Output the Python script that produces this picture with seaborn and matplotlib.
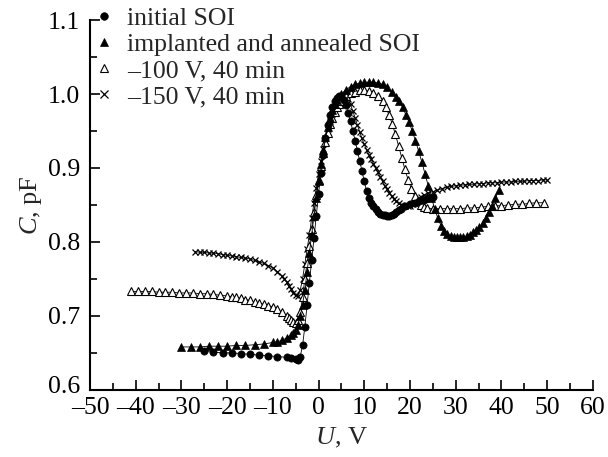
import numpy as np
import pandas as pd
import matplotlib
matplotlib.use('Agg')
import matplotlib.pyplot as plt
import seaborn as sns
from matplotlib.lines import Line2D
from matplotlib.ticker import MultipleLocator
from matplotlib.transforms import ScaledTranslation

# C-V curves
u_init = [-25, -23, -21, -19, -17, -15, -13, -11, -9, -7, -6, -5, -4.5, -4, -3.5, -3, -2.5, -2,
          -1.5, -1, -0.5, 0, 0.5, 1, 1.5, 2, 2.5, 3, 3.5, 4, 4.5, 5, 5.5, 6, 6.5, 7, 7.5, 8, 8.5,
          9, 9.5, 10, 10.5, 11, 11.5, 12, 12.5, 13, 13.5, 14, 14.5, 15, 15.5, 16, 16.5, 17, 17.5,
          18, 19, 20, 21, 22, 23, 24, 25]
c_init = [0.652, 0.651, 0.650, 0.650, 0.649, 0.648, 0.647, 0.646, 0.645, 0.644, 0.643, 0.642,
          0.641, 0.645, 0.66, 0.685, 0.715, 0.745, 0.775, 0.805, 0.835, 0.865,
          0.893, 0.918, 0.94, 0.958, 0.971, 0.982, 0.99, 0.995, 0.997, 0.996,
          0.992, 0.985, 0.975, 0.963, 0.95, 0.937, 0.923, 0.91, 0.896, 0.882,
          0.869, 0.86, 0.853, 0.848, 0.844, 0.841, 0.838, 0.837, 0.836, 0.835,
          0.835, 0.836, 0.838, 0.840, 0.843, 0.845,
          0.849, 0.851, 0.853, 0.855, 0.857, 0.859, 0.861]

u_impl = [-30, -28, -26, -24, -22, -20, -18, -16, -14, -12, -10, -9, -8, -7, -6, -5.5, -5, -4.5,
          -4, -3.5, -3, -2.5, -2, -1.5, -1, -0.5, 0, 0.5, 1, 1.5, 2, 2.5, 3, 3.5, 4, 5, 6, 7, 8, 9,
          10, 11, 12, 13, 14, 15, 16, 17, 17.7, 18.4, 19.1, 19.8, 20.5, 21.2, 21.9, 22.6, 23.3,
          24, 24.7, 25.4, 26.1, 26.8, 27.5, 28.2, 28.9, 29.6, 30.3, 31, 31.7, 32.4, 33.1, 33.8,
          34.5, 35.2, 35.9, 36.6, 37.3, 38, 38.7, 39.4]
c_impl = [0.658, 0.658, 0.658, 0.659, 0.659, 0.659, 0.660, 0.660, 0.661, 0.662, 0.664, 0.665,
          0.667, 0.670, 0.674, 0.677, 0.681, 0.688,
          0.70, 0.715, 0.735, 0.76, 0.785, 0.81, 0.835, 0.86, 0.883, 0.905, 0.925, 0.942, 0.956,
          0.968, 0.978, 0.986, 0.992,
          1.0, 1.006, 1.01, 1.013, 1.015, 1.016, 1.016, 1.016, 1.015, 1.013, 1.009, 1.003, 0.996,
          0.99, 0.982, 0.972, 0.962, 0.95, 0.937, 0.923, 0.908, 0.892, 0.876,
          0.86, 0.845, 0.832, 0.822, 0.815, 0.811, 0.808, 0.807, 0.806, 0.806,
          0.807, 0.808, 0.810, 0.813, 0.816, 0.820, 0.825, 0.832, 0.840, 0.849, 0.859, 0.870]

u_100 = [-41, -39.5, -38, -36.5, -35, -33.5, -32, -30.5, -29, -27.5, -26, -24.5, -23, -21.5, -20,
         -19, -18, -17, -16, -15, -14, -13, -12, -11, -10, -9, -8, -7, -6.5, -6, -5.5, -5, -4.5,
         -4, -3.5, -3, -2.5, -2, -1.5, -1, -0.5, 0, 0.5, 1, 1.5, 2, 2.5, 3, 3.5, 4, 4.5, 5, 6, 7,
         8, 9, 10, 11, 12, 13, 14, 14.7, 15.4, 16.1, 16.8, 17.5, 18.2, 18.9, 19.6, 20.3, 21,
         21.7, 22.4, 23.1, 23.8, 25, 26.5, 28, 29.5, 31, 32.5, 34, 35.5, 37, 38.5, 40, 41.5, 43,
         44.5, 46, 47.5, 49.3]
c_100 = [0.733, 0.733, 0.733, 0.733, 0.732, 0.732, 0.732, 0.731, 0.731, 0.731, 0.730, 0.730,
         0.729, 0.728, 0.727, 0.726, 0.725, 0.724, 0.722, 0.721, 0.719, 0.717, 0.716, 0.714,
         0.712, 0.709, 0.705, 0.700, 0.697, 0.694, 0.692, 0.690,
         0.694, 0.705, 0.725, 0.75, 0.772, 0.795, 0.818, 0.841, 0.863, 0.884, 0.903, 0.92,
         0.935, 0.948, 0.959, 0.968, 0.976, 0.982, 0.987, 0.991,
         0.997, 1.001, 1.003, 1.005, 1.005, 1.004, 1.001, 0.997, 0.99,
         0.982, 0.972, 0.96, 0.946, 0.93, 0.914, 0.898, 0.884, 0.872, 0.862, 0.855, 0.85,
         0.847, 0.846,
         0.845, 0.845, 0.845, 0.845, 0.845, 0.846, 0.846, 0.847, 0.848, 0.849, 0.849, 0.850,
         0.851, 0.851, 0.852, 0.853, 0.853]

u_150 = [-27, -26, -25, -24, -23, -22, -21, -20, -19, -18, -17, -16, -15, -14, -13, -12, -11,
         -10, -9, -8, -7.5, -7, -6.5, -6, -5.5, -5, -4.5, -4, -3.5, -3, -2.5, -2, -1.5, -1, -0.5,
         0, 0.5, 1, 1.5, 2, 2.5, 3, 3.5, 4, 4.5, 5, 5.5, 6, 6.5, 7, 7.5, 8, 8.5, 9, 9.5, 10, 10.5,
         11, 11.5, 12, 12.5, 13, 13.5, 14, 14.5, 15, 15.5, 16, 16.5, 17, 17.5, 18, 18.5, 19,
         19.5, 20, 20.5, 21, 21.5, 22, 22.5, 23, 24, 25, 26, 27, 28, 29, 30, 31, 32, 33, 34, 35,
         36, 37, 38, 39, 40, 41, 42, 43, 44, 45, 46, 47, 48, 49, 50]
c_150 = [0.787, 0.786, 0.786, 0.785, 0.785, 0.784, 0.783, 0.782, 0.781, 0.780, 0.779, 0.778,
         0.777, 0.775, 0.773, 0.771, 0.768, 0.765, 0.760, 0.754, 0.750, 0.746, 0.741, 0.736,
         0.731, 0.728,
         0.727, 0.735, 0.75, 0.77, 0.79, 0.81, 0.832, 0.853, 0.873, 0.892, 0.91, 0.926, 0.94,
         0.953, 0.964, 0.973, 0.981, 0.987, 0.992, 0.996, 0.998, 0.997, 0.993, 0.986, 0.977,
         0.968, 0.958, 0.949,
         0.940, 0.932, 0.925, 0.918, 0.912, 0.906,
         0.9, 0.894, 0.888, 0.882, 0.876, 0.871, 0.866, 0.862, 0.858, 0.855, 0.852, 0.85,
         0.849, 0.848, 0.848, 0.849, 0.851, 0.853, 0.856, 0.859, 0.861, 0.863, 0.866, 0.868,
         0.870, 0.872, 0.874, 0.875, 0.876, 0.877, 0.877, 0.878, 0.878, 0.879, 0.879, 0.880,
         0.880, 0.880, 0.881, 0.881, 0.881, 0.882, 0.882, 0.882, 0.883, 0.883, 0.883, 0.884,
         0.884]

labels = ['initial SOI', 'implanted and annealed SOI', '\u2013100 V, 40 min', '\u2013150 V, 40 min']
xticks = [-50, -40, -30, -20, -10, 0, 10, 20, 30, 40, 50, 60]
yticks = [0.6, 0.7, 0.8, 0.9, 1.0, 1.1]

sns.set_style('ticks')
plt.rcParams['font.family'] = ['Liberation Serif', 'DejaVu Serif']
plt.rcParams['mathtext.fontset'] = 'custom'
plt.rcParams['mathtext.rm'] = 'Liberation Serif'
plt.rcParams['mathtext.it'] = 'Liberation Serif:italic'

fig = plt.figure(figsize=(6.08, 4.57), dpi=100)
ax = fig.add_axes([0.148, 0.147, 0.827, 0.809])

styles = [
    dict(marker='o', ms=5.2, mfc='black', mec='black', mew=0.5),
    dict(marker='^', ms=5.8, mfc='black', mec='black', mew=0.5),
    dict(marker='^', ms=6.0, mfc='white', mec='black', mew=0.8),
    dict(marker='x', ms=5.0, mfc='none', mec='black', mew=0.9),
]
series = [(u_init, c_init), (u_impl, c_impl), (u_100, c_100), (u_150, c_150)]
# draw the open-marker curves first so filled ones sit on top, like the print
for i in [3, 2, 1, 0]:
    u, c = series[i]
    df = pd.DataFrame({'U': u, 'C': c})
    sns.lineplot(data=df, x='U', y='C', sort=False, estimator=None, ax=ax,
                 color='black', lw=0.6, **styles[i])

ax.set_xlim(-50, 60)
ax.set_ylim(0.6, 1.1)
ax.set_xticks(xticks)
ax.set_xticklabels([str(t).replace('-', '\u2013') for t in xticks])
ax.set_yticks(yticks)
ax.set_yticklabels(['%.1f' % t for t in yticks])
ax.xaxis.set_minor_locator(MultipleLocator(5))
ax.yaxis.set_minor_locator(MultipleLocator(0.05))
ax.tick_params(which='both', direction='in', colors='black', labelsize=18.5, width=1.2,
               top=False, right=False)
ax.tick_params(which='major', length=7)
ax.tick_params(which='minor', length=5)
ax.tick_params(axis='x', which='major', pad=5)
ax.tick_params(axis='y', which='major', pad=7)
for s in ['top', 'right']:
    ax.spines[s].set_visible(False)
for s in ['left', 'bottom']:
    ax.spines[s].set_linewidth(1.5)
    ax.spines[s].set_color('black')

# lift the bottom "0.6" a little so it clears the "-50" below it
lab0 = ax.get_yticklabels()[0]
lab0.set_transform(lab0.get_transform() + ScaledTranslation(0, 4 / 72, fig.dpi_scale_trans))

ax.set_xlabel(r'$\mathit{U}$, V', fontsize=19, labelpad=5)
ax.set_ylabel(r'$\mathit{C}$, pF', fontsize=19, labelpad=3)

handles = [Line2D([], [], ls='none', color='black', **dict(st, ms=st['ms'] * 1.05)) for st in styles]
fig.legend(handles, labels, loc='upper left', bbox_to_anchor=(0.15, 0.985), frameon=False,
           fontsize=18.5, handlelength=1.0, handletextpad=0.4, labelspacing=0.12,
           borderpad=0, borderaxespad=0)

fig.savefig('out.png', dpi=100)
